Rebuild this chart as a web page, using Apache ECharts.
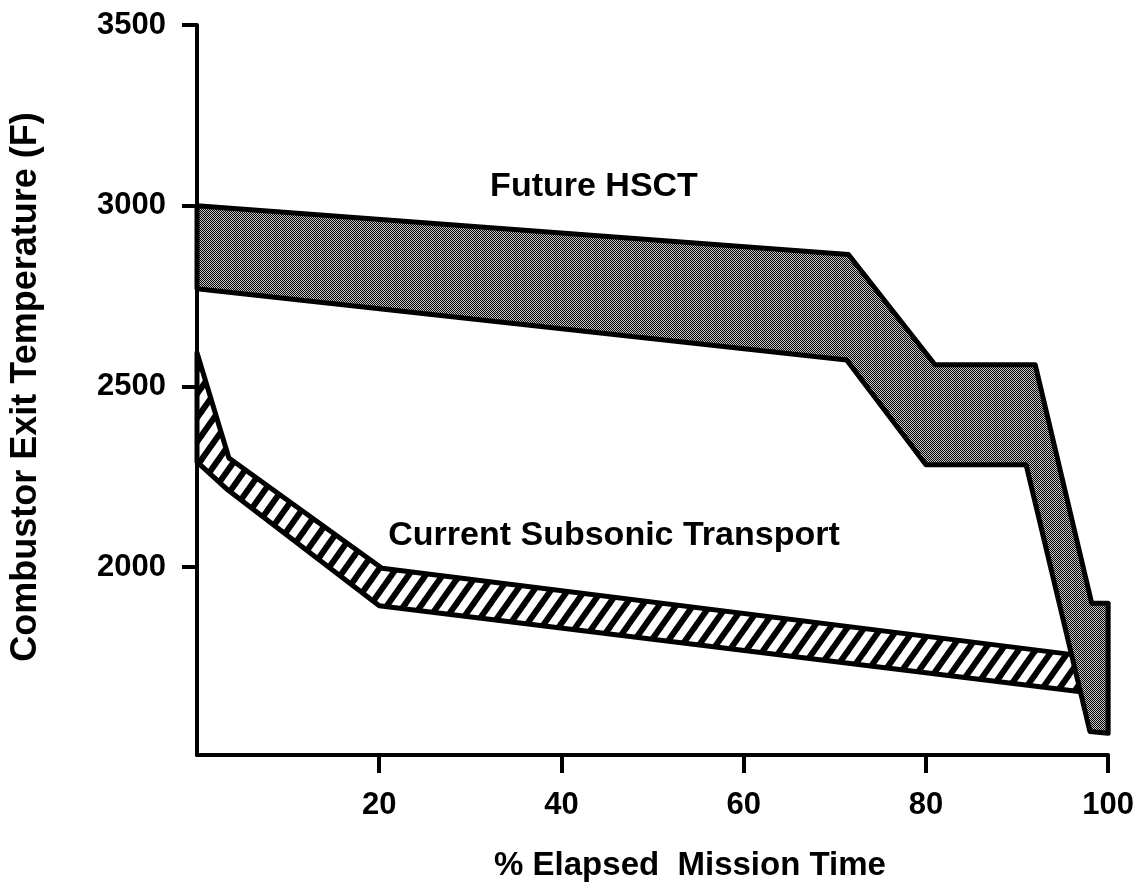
<!DOCTYPE html>
<html>
<head>
<meta charset="utf-8">
<script src="https://cdn.jsdelivr.net/npm/echarts@6/dist/echarts.min.js"></script>
<style>
  html, body { margin: 0; padding: 0; background: #fff; }
  #chart { width: 1137px; height: 888px; }
</style>
</head>
<body>
<div id="chart"></div>
<script>
'use strict';

// band outlines: [% elapsed mission time, temperature F]
var hsctUpper = [[0, 3000], [71.5, 2865], [81, 2560], [92, 2560], [98.2, 1900], [100, 1900], [100, 1540]];
var hsctLower = [[0, 2770], [71.3, 2573], [80, 2283], [91, 2283], [98, 1545]];
var subUpper = [[0, 2593], [3.5, 2302], [20.3, 1997], [97, 1755]];
var subLower = [[0, 2291], [3.4, 2213], [20, 1893], [97, 1655]];

var xTicks = [20, 40, 60, 80, 100];
var yTicks = [2000, 2500, 3000, 3500];

var FONT = '"Liberation Sans", Arial, Helvetica, sans-serif';

// stipple fill (the grey HSCT band)
function stipplePattern() {
  var c = document.createElement('canvas');
  c.width = 2; c.height = 2;
  var ctx = c.getContext('2d');
  ctx.fillStyle = '#c4c4c4';
  ctx.fillRect(0, 0, 2, 2);
  ctx.fillStyle = '#000';
  ctx.fillRect(0, 0, 1, 1);
  ctx.fillRect(1, 1, 1, 1);
  return { image: c, repeat: 'repeat' };
}

// "/" hatch fill (the subsonic band)
function hatchPattern() {
  var w = 17, h = 24;
  var c = document.createElement('canvas');
  c.width = w; c.height = h;
  var ctx = c.getContext('2d');
  ctx.fillStyle = '#fff';
  ctx.fillRect(0, 0, w, h);
  ctx.strokeStyle = '#000';
  ctx.lineWidth = 6;
  // lines run past the tile so the butt ends don't leave seams
  [-w, 0, w].forEach(function (dx) {
    ctx.beginPath();
    ctx.moveTo(dx - w, 2 * h);
    ctx.lineTo(dx + 2 * w, -h);
    ctx.stroke();
  });
  return { image: c, repeat: 'repeat' };
}

function bandRenderer(upper, lower, fill) {
  return function (params, api) {
    var pts = upper.concat(lower.slice().reverse()).map(function (p) {
      return api.coord(p);
    });
    return {
      type: 'polygon',
      shape: { points: pts },
      style: { fill: fill, stroke: '#000', lineWidth: 5, lineJoin: 'round' }
    };
  };
}

var chart = echarts.init(document.getElementById('chart'));

var labelStyle = {
  color: '#000',
  fontFamily: FONT,
  fontWeight: 'bold',
  fontSize: 31,
  formatter: function (v) { return String(v); }
};

var option = {
  backgroundColor: '#fff',
  animation: false,
  grid: { left: 197, right: 28, top: 25, bottom: 133 },
  xAxis: {
    type: 'value',
    min: 0,
    max: 100,
    interval: 20,
    splitLine: { show: false },
    axisLine: { lineStyle: { color: '#000', width: 4 } },
    axisTick: { length: 18, lineStyle: { color: '#000', width: 4 }, customValues: xTicks },
    axisLabel: Object.assign({ customValues: xTicks, margin: 35 }, labelStyle)
  },
  yAxis: {
    type: 'value',
    min: 1480,
    max: 3500,
    splitLine: { show: false },
    axisLine: { onZero: false, lineStyle: { color: '#000', width: 4 } },
    axisTick: { length: 15, lineStyle: { color: '#000', width: 4 }, customValues: yTicks },
    axisLabel: Object.assign({ customValues: yTicks, margin: 31 }, labelStyle)
  },
  graphic: [
    {
      type: 'text', x: 26, y: 387, rotation: Math.PI / 2,
      style: { text: 'Combustor Exit Temperature (F)', font: 'bold 36px ' + FONT, fill: '#000', align: 'center', verticalAlign: 'middle' }
    },
    {
      type: 'text', x: 690, y: 866,
      style: { text: '% Elapsed  Mission Time', font: 'bold 33px ' + FONT, fill: '#000', align: 'center', verticalAlign: 'middle' }
    },
    {
      type: 'text', x: 594, y: 187,
      style: { text: 'Future HSCT', font: 'bold 34px ' + FONT, fill: '#000', align: 'center', verticalAlign: 'middle' }
    },
    {
      type: 'text', x: 614, y: 536,
      style: { text: 'Current Subsonic Transport', font: 'bold 34px ' + FONT, fill: '#000', align: 'center', verticalAlign: 'middle' }
    }
  ],
  series: [
    {
      type: 'custom',
      name: 'Current Subsonic Transport',
      coordinateSystem: 'cartesian2d',
      data: [0],
      clip: false,
      z: 2,
      renderItem: bandRenderer(subUpper, subLower, hatchPattern())
    },
    {
      type: 'custom',
      name: 'Future HSCT',
      coordinateSystem: 'cartesian2d',
      data: [0],
      clip: false,
      z: 3,
      renderItem: bandRenderer(hsctUpper, hsctLower, stipplePattern())
    }
  ]
};

chart.setOption(option);
</script>
</body>
</html>
